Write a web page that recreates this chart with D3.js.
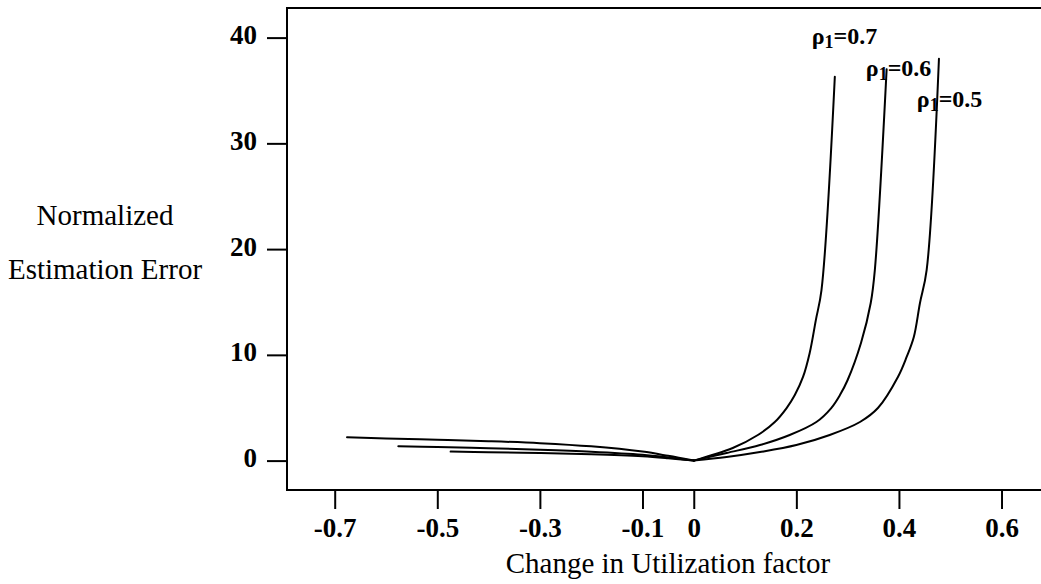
<!DOCTYPE html>
<html>
<head>
<meta charset="utf-8">
<script src="https://cdn.jsdelivr.net/npm/d3@7"></script>
<style>
  html, body { margin: 0; padding: 0; background: #fff; }
  svg { display: block; }
</style>
</head>
<body>
<svg id="chart" width="1041" height="584"></svg>
<script>
// ---- Data ----
const seriesNames = ["ρ1=0.7", "ρ1=0.6", "ρ1=0.5"];
const rho07X = [-0.676, -0.6, -0.5, -0.4, -0.3, -0.2, -0.1, -0.05, 0, 0.076, 0.125, 0.158, 0.181, 0.197, 0.213, 0.226, 0.238, 0.249, 0.275];
const rho07Y = [2.2, 2.1, 1.98, 1.84, 1.65, 1.35, 0.85, 0.45, 0, 1.19, 2.42, 3.65, 4.97, 6.2, 7.91, 10.18, 13.29, 16.13, 36.3];
const rho06X = [-0.576, -0.5, -0.4, -0.3, -0.2, -0.1, -0.05, 0, 0.064, 0.129, 0.187, 0.239, 0.268, 0.285, 0.300, 0.326, 0.345, 0.353, 0.376];
const rho06Y = [1.36, 1.28, 1.17, 1.03, 0.84, 0.55, 0.3, 0, 0.72, 1.47, 2.42, 3.65, 4.97, 6.2, 7.62, 11.12, 14.9, 18.02, 37.0];
const rho05X = [-0.474, -0.4, -0.3, -0.2, -0.1, -0.05, 0, 0.064, 0.129, 0.200, 0.265, 0.324, 0.359, 0.398, 0.415, 0.429, 0.441, 0.454, 0.478];
const rho05Y = [0.85, 0.8, 0.72, 0.6, 0.4, 0.22, 0, 0.34, 0.81, 1.47, 2.42, 3.65, 4.97, 7.91, 9.8, 11.69, 14.9, 18.02, 38.0];
const xTicks = [-0.7, -0.5, -0.3, -0.1, 0, 0.2, 0.4, 0.6];
const xTickLabels = ["-0.7", "-0.5", "-0.3", "-0.1", "0", "0.2", "0.4", "0.6"];
const yTicks = [0, 10, 20, 30, 40];
const yTickLabels = ["0", "10", "20", "30", "40"];
// annotation anchor points (data units) for the curve labels
const labelX = [0.230, 0.3354, 0.4348];
const labelY = [39.4, 36.4, 33.4];
const labelValues = ["0.7", "0.6", "0.5"];
const xTitle = "Change in Utilization factor";
const yTitleLines = ["Normalized", "Estimation Error"];

// ---- Layout ----
const svg = d3.select("#chart");
const mLeft = 287, mRight = 1041, mTop = 8, mBottom = 490;
const x = d3.scaleLinear().domain([-0.793, 0.675]).range([mLeft, 1040]);
const y = d3.scaleLinear().domain([-2.78, 42.8]).range([mBottom, mTop]);

const serif = "'Liberation Serif', 'Times New Roman', serif";

// frame lines (left, top, bottom)
svg.append("path")
  .attr("d", `M${mRight},${mTop}H${mLeft}V${mBottom}H${mRight}`)
  .attr("fill", "none").attr("stroke", "#000").attr("stroke-width", 2);

// x axis
const xAxis = d3.axisBottom(x).tickValues(xTicks)
  .tickFormat((d, i) => xTickLabels[i]).tickSize(19).tickPadding(9);
const gx = svg.append("g").attr("transform", `translate(0,${mBottom})`).call(xAxis);
gx.select(".domain").remove();
gx.selectAll(".tick line").attr("stroke", "#000").attr("stroke-width", 2);
gx.selectAll(".tick text").attr("font-family", serif).attr("font-size", 27)
  .attr("font-weight", "bold").attr("fill", "#000");

// y axis
const yAxis = d3.axisLeft(y).tickValues(yTicks)
  .tickFormat((d, i) => yTickLabels[i]).tickSize(20).tickPadding(10);
const gy = svg.append("g").attr("transform", `translate(${mLeft},0)`).call(yAxis);
gy.select(".domain").remove();
gy.selectAll(".tick line").attr("stroke", "#000").attr("stroke-width", 2);
gy.selectAll(".tick text").attr("font-family", serif).attr("font-size", 27)
  .attr("font-weight", "bold").attr("fill", "#000").attr("dy", "0.22em");

// curves: each drawn as two smooth branches meeting at the cusp x = 0
const allX = [rho07X, rho06X, rho05X];
const allY = [rho07Y, rho06Y, rho05Y];
const line = d3.line().x(d => x(d[0])).y(d => y(d[1])).curve(d3.curveCatmullRom.alpha(0.5));
allX.forEach((xs, i) => {
  const pts = xs.map((v, j) => [v, allY[i][j]]);
  const leftPts = pts.filter(p => p[0] <= 0);
  const rightPts = pts.filter(p => p[0] >= 0);
  [leftPts, rightPts].forEach(seg => {
    svg.append("path").datum(seg)
      .attr("d", line)
      .attr("fill", "none").attr("stroke", "#000").attr("stroke-width", 2)
      .attr("stroke-linejoin", "round").attr("stroke-linecap", "round");
  });
});

// curve labels
labelValues.forEach((v, i) => {
  const t = svg.append("text")
    .attr("x", x(labelX[i])).attr("y", y(labelY[i]))
    .attr("font-family", serif).attr("font-size", 24).attr("font-weight", "bold")
    .attr("fill", "#000");
  t.append("tspan").text("ρ");
  t.append("tspan").attr("font-size", 18).attr("dy", 4).text("1");
  t.append("tspan").attr("dy", -4).text("=" + v);
});

// axis titles
svg.append("text").attr("x", 668).attr("y", 573)
  .attr("text-anchor", "middle").attr("font-family", serif).attr("font-size", 29)
  .attr("fill", "#000").text(xTitle);
yTitleLines.forEach((s, i) => {
  svg.append("text").attr("x", 105).attr("y", 225 + i * 54)
    .attr("text-anchor", "middle").attr("font-family", serif).attr("font-size", 29)
    .attr("fill", "#000").text(s);
});
</script>
</body>
</html>
